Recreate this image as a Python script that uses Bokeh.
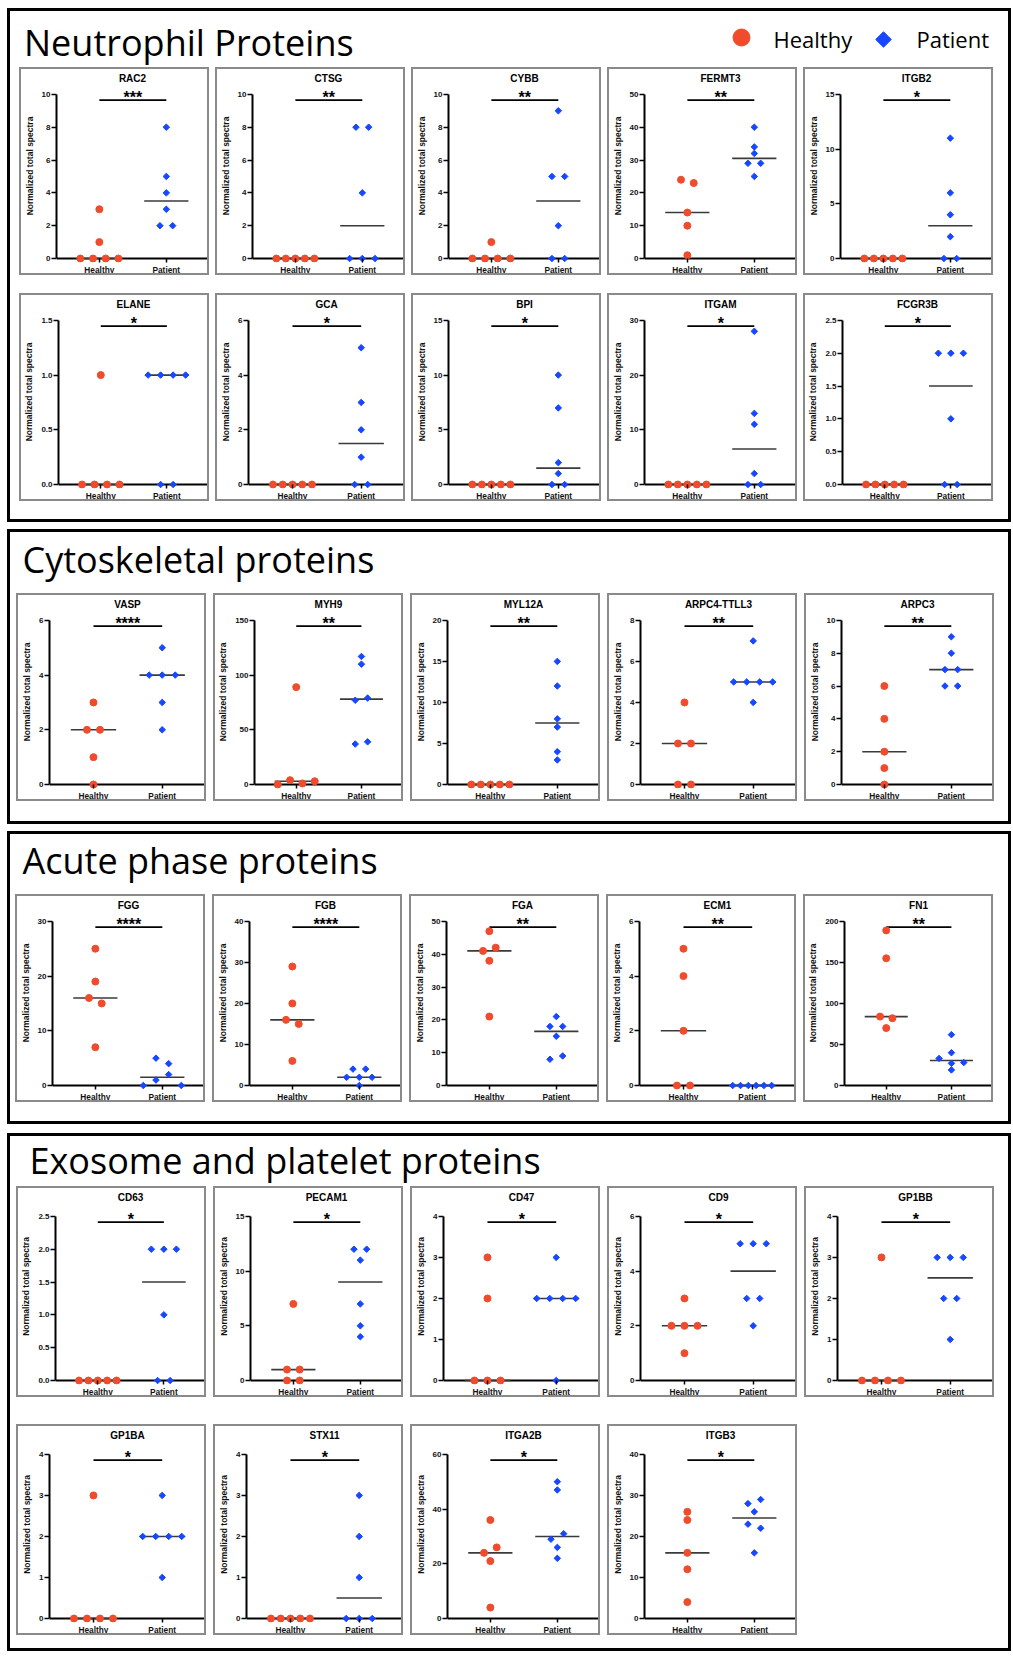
import numpy as np
from bokeh.plotting import figure
from bokeh.models import Range1d, FixedTicker, Span
from bokeh.layouts import row, column
from bokeh.embed import file_html
from bokeh.resources import INLINE
from bokeh.core.properties import value

HEALTHY_COLOR = "#F04B2C"
PATIENT_COLOR = "#1747FF"
GROUPS = ["Healthy", "Patient"]
Y_LABEL = "Normalized total spectra"

# ---------------- Neutrophil proteins ----------------
NEUT_NAMES = ["RAC2", "CTSG", "CYBB", "FERMT3", "ITGB2", "ELANE", "GCA", "BPI", "ITGAM", "FCGR3B"]
NEUT_YMAX = [10, 10, 10, 50, 15, 1.5, 6, 15, 30, 2.5]
NEUT_YSTEP = [2, 2, 2, 10, 5, 0.5, 2, 5, 10, 0.5]
NEUT_SIG = ["***", "**", "**", "**", "*", "*", "*", "*", "*", "*"]
RAC2_H = [0, 0, 0, 0, 1, 3]
RAC2_P = [8, 5, 4, 3, 2, 2]
CTSG_H = [0, 0, 0, 0, 0]
CTSG_P = [8, 8, 4, 0, 0, 0]
CYBB_H = [0, 0, 0, 0, 1]
CYBB_P = [9, 5, 5, 2, 0, 0]
FERMT3_H = [24, 23, 14, 10, 1]
FERMT3_P = [40, 34, 32, 29, 29, 25]
ITGB2_H = [0, 0, 0, 0, 0]
ITGB2_P = [11, 6, 4, 2, 0, 0]
ELANE_H = [0, 0, 0, 0, 1]
ELANE_P = [1, 1, 1, 1, 0, 0]
GCA_H = [0, 0, 0, 0, 0]
GCA_P = [5, 3, 2, 1, 0, 0]
BPI_H = [0, 0, 0, 0, 0]
BPI_P = [10, 7, 2, 1, 0, 0]
ITGAM_H = [0, 0, 0, 0, 0]
ITGAM_P = [28, 13, 11, 2, 0, 0]
FCGR3B_H = [0, 0, 0, 0, 0]
FCGR3B_P = [2, 2, 2, 1, 0, 0]

# ---------------- Cytoskeletal proteins ----------------
CYTO_NAMES = ["VASP", "MYH9", "MYL12A", "ARPC4-TTLL3", "ARPC3"]
CYTO_YMAX = [6, 150, 20, 8, 10]
CYTO_YSTEP = [2, 50, 5, 2, 2]
CYTO_SIG = ["****", "**", "**", "**", "**"]
VASP_H = [3, 2, 2, 1, 0]
VASP_P = [5, 4, 4, 4, 3, 2]
MYH9_H = [0, 4, 1, 3, 89]
MYH9_P = [117, 110, 77, 79, 37, 39]
MYL12A_H = [0, 0, 0, 0, 0]
MYL12A_P = [15, 12, 8, 7, 4, 3]
ARPC4_H = [4, 2, 2, 0, 0]
ARPC4_P = [7, 5, 5, 5, 5, 4]
ARPC3_H = [6, 4, 2, 1, 0]
ARPC3_P = [9, 8, 7, 7, 6, 6]

# ---------------- Acute phase proteins ----------------
ACUTE_NAMES = ["FGG", "FGB", "FGA", "ECM1", "FN1"]
ACUTE_YMAX = [30, 40, 50, 6, 200]
ACUTE_YSTEP = [10, 10, 10, 2, 50]
ACUTE_SIG = ["****", "****", "**", "**", "**"]
FGG_H = [25, 19, 16, 15, 7]
FGG_P = [5, 4, 0, 1, 2, 0]
FGB_H = [29, 20, 16, 15, 6]
FGB_P = [4, 4, 2, 2, 2, 0]
FGA_H = [47, 41, 42, 38, 21]
FGA_P = [21, 18, 18, 15, 8, 9]
ECM1_H = [5, 4, 2, 0, 0]
ECM1_P = [0, 0, 0, 0, 0, 0]
FN1_H = [189, 155, 84, 82, 70]
FN1_P = [62, 40, 33, 27, 28, 19]

# ---------------- Exosome and platelet proteins ----------------
EXO_NAMES = ["CD63", "PECAM1", "CD47", "CD9", "GP1BB", "GP1BA", "STX11", "ITGA2B", "ITGB3"]
EXO_YMAX = [2.5, 15, 4, 6, 4, 4, 4, 60, 40]
EXO_YSTEP = [0.5, 5, 1, 2, 1, 1, 1, 20, 10]
EXO_SIG = ["*", "*", "*", "*", "*", "*", "*", "*", "*"]
CD63_H = [0, 0, 0, 0, 0]
CD63_P = [2, 2, 2, 1, 0, 0]
PECAM1_H = [7, 1, 1, 0, 0]
PECAM1_P = [12, 12, 11, 7, 5, 4]
CD47_H = [3, 2, 0, 0, 0]
CD47_P = [3, 2, 2, 2, 2, 0]
CD9_H = [3, 2, 2, 2, 1]
CD9_P = [5, 5, 5, 3, 3, 2]
GP1BB_H = [3, 0, 0, 0, 0]
GP1BB_P = [3, 3, 3, 2, 2, 1]
GP1BA_H = [3, 0, 0, 0, 0]
GP1BA_P = [3, 2, 2, 2, 2, 1]
STX11_H = [0, 0, 0, 0, 0]
STX11_P = [3, 2, 1, 0, 0, 0]
ITGA2B_H = [36, 24, 26, 21, 4]
ITGA2B_P = [50, 47, 29, 31, 26, 22]
ITGB3_H = [26, 24, 16, 12, 4]
ITGB3_P = [28, 29, 26, 23, 22, 16]

NEUT_H = [RAC2_H, CTSG_H, CYBB_H, FERMT3_H, ITGB2_H, ELANE_H, GCA_H, BPI_H, ITGAM_H, FCGR3B_H]
NEUT_P = [RAC2_P, CTSG_P, CYBB_P, FERMT3_P, ITGB2_P, ELANE_P, GCA_P, BPI_P, ITGAM_P, FCGR3B_P]
CYTO_H = [VASP_H, MYH9_H, MYL12A_H, ARPC4_H, ARPC3_H]
CYTO_P = [VASP_P, MYH9_P, MYL12A_P, ARPC4_P, ARPC3_P]
ACUTE_H = [FGG_H, FGB_H, FGA_H, ECM1_H, FN1_H]
ACUTE_P = [FGG_P, FGB_P, FGA_P, ECM1_P, FN1_P]
EXO_H = [CD63_H, PECAM1_H, CD47_H, CD9_H, GP1BB_H, GP1BA_H, STX11_H, ITGA2B_H, ITGB3_H]
EXO_P = [CD63_P, PECAM1_P, CD47_P, CD9_P, GP1BB_P, GP1BA_P, STX11_P, ITGA2B_P, ITGB3_P]

# ---------------- styling / layout constants ----------------
PANEL_FONT = "Liberation Sans"
HEAD_FONT = "Open Sans"
PANEL_W = 190
XMIN, XMAX = -0.64, 1.63
FRAME_W = 152
X_PX = FRAME_W / (XMAX - XMIN)
PLOT_PX = 165.0
INNER_W = 998


def swarm_offsets(vals, ymax):
    """GraphPad-like column scatter: points closer than ~a marker are spread in a row."""
    n = len(vals)
    order = sorted(range(n), key=lambda i: vals[i])
    scale = PLOT_PX / ymax
    clusters, cur = [], [order[0]]
    for a, b in zip(order[:-1], order[1:]):
        if (vals[b] - vals[a]) * scale < 5.7:
            cur.append(b)
        else:
            clusters.append(cur)
            cur = [b]
    clusters.append(cur)
    offs = [0.0] * n
    for c in clusters:
        c = sorted(c)
        m = len(c)
        if m == 1:
            continue
        step = min(12.7, 38.0 / (m - 1)) / X_PX
        for k, i in enumerate(c):
            offs[i] = (k - (m - 1) / 2.0) * step
    return offs


def make_panel(name, hv, pv, ymax, ystep, sig, height):
    content_h = height - 4
    frame_h = content_h - 10
    zero_px = frame_h - 4
    top_px = zero_px - PLOT_PX
    s = PLOT_PX / ymax
    y0 = -4.0 / s
    y1 = ymax + top_px / s
    p = figure(width=PANEL_W, height=height,
               x_range=Range1d(XMIN, XMAX), y_range=Range1d(y0, y1),
               output_backend="svg", toolbar_location=None,
               min_border_left=31, min_border_right=3, min_border_top=0, min_border_bottom=10,
               styles={"border": "2px solid #8a8a8a"})
    p.title.visible = False
    p.grid.visible = False
    p.outline_line_color = None
    p.background_fill_color = "white"
    p.border_fill_color = "white"

    # x axis (categories)
    xa = p.xaxis[0]
    xa.ticker = FixedTicker(ticks=[0, 1])
    xa.major_label_overrides = {0: GROUPS[0], 1: GROUPS[1]}
    xa.axis_line_color = None
    xa.major_tick_in = 4
    xa.major_tick_out = 0
    xa.major_tick_line_width = 1.5
    xa.minor_tick_line_color = None
    xa.major_label_standoff = 2
    xa.major_label_text_font = PANEL_FONT
    xa.major_label_text_font_style = "bold"
    xa.major_label_text_font_size = "8.3px"
    xa.major_label_text_color = "#111111"

    # y axis
    ticks = [round(float(t), 3) for t in np.arange(0, ymax + ystep / 2.0, ystep)]
    ya = p.yaxis[0]
    ya.ticker = FixedTicker(ticks=ticks)
    ya.major_label_overrides = {t: (f"{t:.1f}" if ystep % 1 else f"{int(round(t))}") for t in ticks}
    ya.bounds = (0, ymax)
    ya.axis_line_width = 2
    ya.major_tick_out = 5
    ya.major_tick_in = 0
    ya.major_tick_line_width = 1.5
    ya.minor_tick_line_color = None
    ya.major_label_standoff = 1
    ya.major_label_text_font = PANEL_FONT
    ya.major_label_text_font_style = "bold"
    ya.major_label_text_font_size = "8px"
    ya.major_label_text_color = "#111111"
    ya.axis_label = Y_LABEL
    ya.axis_label_standoff = 4
    ya.axis_label_text_font = PANEL_FONT
    ya.axis_label_text_font_style = "bold"
    ya.axis_label_text_font_size = "8.5px"
    ya.axis_label_text_color = "#111111"

    p.add_layout(Span(location=0, dimension="width", line_color="black",
                      line_width=2, level="underlay"))

    # panel title
    xc = (XMIN + XMAX) / 2.0
    p.text(x=[xc], y=[y1 - 9.0 / s], text=[name], text_align="center", text_baseline="middle",
           text_font=value(PANEL_FONT), text_font_style="bold", text_font_size="10px",
           text_color="black")

    # medians
    meds = [float(np.median(hv)), float(np.median(pv))]
    p.segment(x0=[-0.33, 1 - 0.33], y0=meds, x1=[0.33, 1 + 0.33], y1=meds,
              line_color="#3a3a3a", line_width=1.6)

    # significance bar + stars
    bar_y = 0.965 * ymax
    p.segment(x0=[0], y0=[bar_y], x1=[1], y1=[bar_y], line_color="black", line_width=1.6)
    p.text(x=[0.5], y=[bar_y + 2.5 / s], text=[sig], text_align="center", text_baseline="middle",
           text_font=value(PANEL_FONT), text_font_style="bold", text_font_size="16px",
           text_color="black")

    # points
    ho = swarm_offsets(hv, ymax)
    po = swarm_offsets(pv, ymax)
    p.scatter(x=[0 + o for o in ho], y=hv, marker="circle", size=7,
              fill_color=HEALTHY_COLOR, line_color=HEALTHY_COLOR)
    p.scatter(x=[1 + o for o in po], y=pv, marker="square", angle=np.pi / 4, size=4.6,
              fill_color=PATIENT_COLOR, line_color=PATIENT_COLOR)
    return p


def make_header(title, height, tx, ty, legend=False):
    f = figure(width=INNER_W, height=height, x_range=Range1d(0, INNER_W), y_range=Range1d(height, 0),
               output_backend="svg", toolbar_location=None, min_border=0,
               x_axis_location=None, y_axis_location=None)
    f.title.visible = False
    f.grid.visible = False
    f.outline_line_color = None
    f.text(x=[tx], y=[ty], text=[title], text_font=value(HEAD_FONT), text_font_size="36px",
           text_baseline="middle", text_align="left", text_color="black")
    if legend:
        f.scatter(x=[731], y=[26], marker="circle", size=17,
                  fill_color=HEALTHY_COLOR, line_color=HEALTHY_COLOR)
        f.text(x=[763], y=[27], text=[GROUPS[0]], text_font=value(HEAD_FONT), text_font_size="22px",
               text_baseline="middle", text_color="black")
        f.scatter(x=[873], y=[28], marker="square", angle=np.pi / 4, size=11,
                  fill_color=PATIENT_COLOR, line_color=PATIENT_COLOR)
        f.text(x=[906], y=[27], text=[GROUPS[1]], text_font=value(HEAD_FONT), text_font_size="22px",
               text_baseline="middle", text_color="black")
    return f


def panels(names, hs, ps, ymaxs, ysteps, sigs, height):
    return [make_panel(n, h, pp, ym, ys, s, height)
            for n, h, pp, ym, ys, s in zip(names, hs, ps, ymaxs, ysteps, sigs)]


SEC_STYLE = {"border": "3px solid black"}

np_ = panels(NEUT_NAMES, NEUT_H, NEUT_P, NEUT_YMAX, NEUT_YSTEP, NEUT_SIG, 208)
s1 = column(make_header("Neutrophil Proteins", 56, 13.5, 31, legend=True),
            row(*np_[:5], spacing=6, margin=(0, 0, 0, 9)),
            row(*np_[5:], spacing=6, margin=(18, 0, 18, 9)),
            styles=SEC_STYLE)

cp = panels(CYTO_NAMES, CYTO_H, CYTO_P, CYTO_YMAX, CYTO_YSTEP, CYTO_SIG, 208)
s2 = column(make_header("Cytoskeletal proteins", 61, 12, 27),
            row(*cp, spacing=7, margin=(0, 0, 20, 6)),
            styles=SEC_STYLE)

ap = panels(ACUTE_NAMES, ACUTE_H, ACUTE_P, ACUTE_YMAX, ACUTE_YSTEP, ACUTE_SIG, 208)
s3 = column(make_header("Acute phase proteins", 60, 12, 25.5),
            row(*ap, spacing=7, margin=(0, 0, 19, 5)),
            styles=SEC_STYLE)

ep = panels(EXO_NAMES, EXO_H, EXO_P, EXO_YMAX, EXO_YSTEP, EXO_SIG, 211)
s4 = column(make_header("Exosome and platelet proteins", 50, 19, 24),
            row(*ep[:5], spacing=7, margin=(0, 0, 0, 6)),
            row(*ep[5:], spacing=7, margin=(27, 0, 13, 6)),
            styles=SEC_STYLE)
s4.margin = (2, 0, 0, 0)

layout = column(s1, s2, s3, s4, spacing=7, margin=(8, 0, 0, 7))

open("out.html", "w").write(file_html(layout, INLINE, "Proteins"))
